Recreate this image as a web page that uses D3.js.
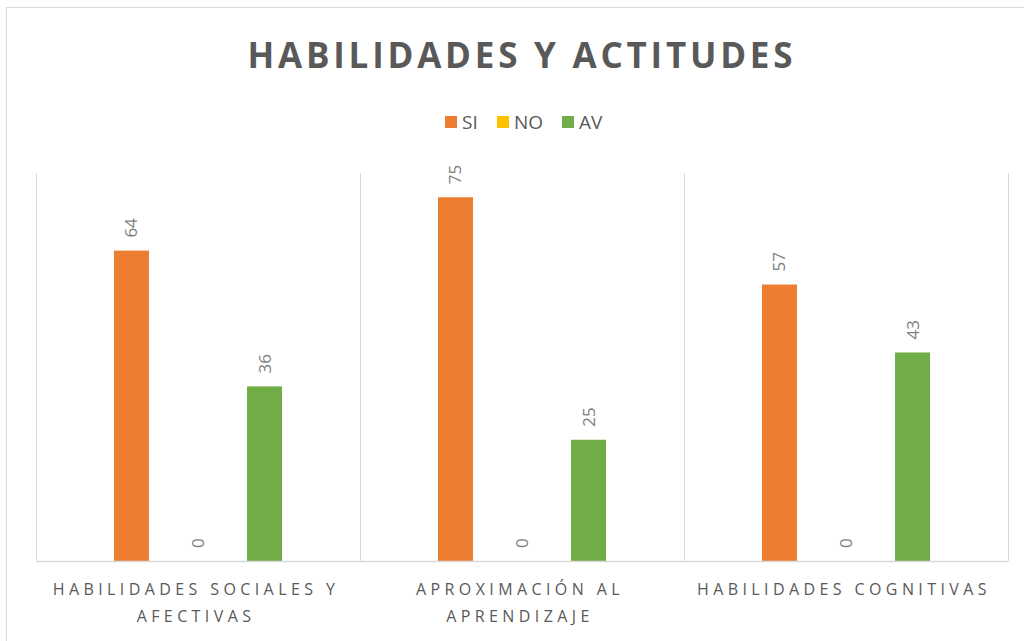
<!DOCTYPE html>
<html>
<head>
<meta charset="utf-8">
<script src="https://cdn.jsdelivr.net/npm/d3@7"></script>
<style>
  body { margin: 0; background: #fff; }
  svg { display: block; font-family: "Open Sans", "Liberation Sans", sans-serif; }
</style>
</head>
<body>
<div id="chart"></div>
<script>
// data
const categories = [["HABILIDADES SOCIALES Y", "AFECTIVAS"], ["APROXIMACIÓN AL", "APRENDIZAJE"], ["HABILIDADES COGNITIVAS"]];
const series = ["SI", "NO", "AV"];
const siValues = [64, 75, 57];
const noValues = [0, 0, 0];
const avValues = [36, 25, 43];
const colors = ["#ED7D31", "#FFC000", "#70AD47"];

const width = 1024, height = 641;
const plot = {left: 36, right: 1008, top: 173, bottom: 561};

const rows = categories.map((c, i) => ({
  key: i, label: c,
  vals: [siValues[i], noValues[i], avValues[i]]
}));

const svg = d3.select("#chart").append("svg")
  .attr("width", width).attr("height", height);

// chart frame
svg.append("rect")
  .attr("x", 6.5).attr("y", 7.5)
  .attr("width", 1040).attr("height", 700)
  .attr("fill", "#fff").attr("stroke", "#d9d9d9");

const x0 = d3.scaleBand()
  .domain(rows.map(d => d.key))
  .range([plot.left, plot.right])
  .paddingInner(0.384).paddingOuter(0.192);
const x1 = d3.scaleBand()
  .domain(series)
  .range([0, x0.bandwidth()])
  .paddingInner(0.474).paddingOuter(0.237);
const y = d3.scaleLinear().domain([0, 80]).range([plot.bottom, plot.top]);

// category separators
const step = x0.step();
const seps = d3.range(rows.length + 1).map(i => plot.left + i * step);
svg.append("g").selectAll("line").data(seps).join("line")
  .attr("x1", d => d + 0.5).attr("x2", d => d + 0.5)
  .attr("y1", plot.top).attr("y2", plot.bottom)
  .attr("stroke", "#d9d9d9");

// bars
const groups = svg.append("g").selectAll("g").data(rows).join("g")
  .attr("transform", d => `translate(${x0(d.key)},0)`);

groups.selectAll("rect")
  .data(d => d.vals.map((v, j) => ({s: series[j], v, j})))
  .join("rect")
  .attr("x", d => x1(d.s))
  .attr("width", x1.bandwidth())
  .attr("y", d => y(d.v))
  .attr("height", d => y(0) - y(d.v))
  .attr("fill", d => colors[d.j]);

// value labels, rotated
groups.selectAll("text")
  .data(d => d.vals.map((v, j) => ({s: series[j], v, j})))
  .join("text")
  .attr("transform", d => `translate(${x1(d.s) + x1.bandwidth() / 2 + 6},${y(d.v) - 13}) rotate(-90)`)
  .attr("text-anchor", "start")
  .attr("font-size", 17)
  .attr("fill", "#7f7f7f")
  .text(d => d.v);

// baseline
svg.append("line")
  .attr("x1", plot.left).attr("x2", plot.right)
  .attr("y1", plot.bottom + 0.5).attr("y2", plot.bottom + 0.5)
  .attr("stroke", "#d9d9d9").attr("stroke-width", 1.5);

// category labels
const catText = svg.append("g").selectAll("text").data(rows).join("text")
  .attr("x", d => x0(d.key) + x0.bandwidth() / 2 - 2)
  .attr("y", 595)
  .attr("text-anchor", "middle")
  .attr("font-size", 16)
  .attr("letter-spacing", 4.4)
  .attr("fill", "#595959");
catText.selectAll("tspan").data(d => d.label).join("tspan")
  .attr("x", function() { return d3.select(this.parentNode).attr("x"); })
  .attr("dy", (d, i) => i === 0 ? 0 : 27)
  .text(d => d);

// title
svg.append("text")
  .attr("x", 520).attr("y", 68)
  .attr("text-anchor", "middle")
  .attr("font-size", 35)
  .attr("font-weight", "bold")
  .attr("fill", "#595959")
  .attr("textLength", 545)
  .attr("lengthAdjust", "spacing")
  .text("HABILIDADES Y ACTITUDES");

// legend
const legendX = [445, 497, 562];
const legend = svg.append("g").selectAll("g").data(series).join("g")
  .attr("transform", (d, i) => `translate(${legendX[i]},116)`);
legend.append("rect")
  .attr("width", 12).attr("height", 12)
  .attr("fill", (d, i) => colors[i]);
legend.append("text")
  .attr("x", 17).attr("y", 13)
  .attr("font-size", 19)
  .attr("fill", "#595959")
  .text(d => d);
</script>
</body>
</html>
